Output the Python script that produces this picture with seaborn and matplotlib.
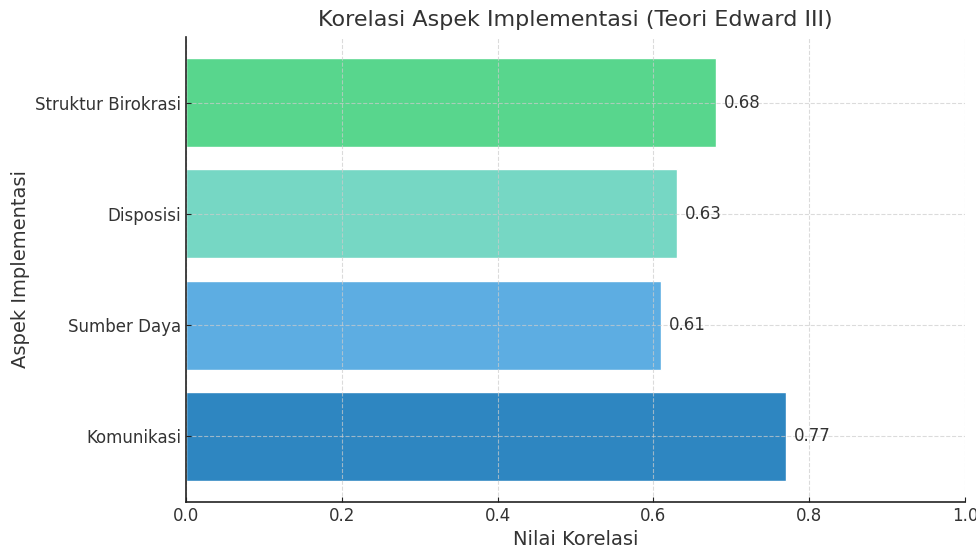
import matplotlib
matplotlib.use("Agg")
import matplotlib.pyplot as plt
import seaborn as sns
import pandas as pd

# data
aspek = ["Struktur Birokrasi", "Disposisi", "Sumber Daya", "Komunikasi"]
korelasi = [0.68, 0.63, 0.61, 0.77]
warna = ["#58D68D", "#76D7C4", "#5DADE2", "#2E86C1"]

df = pd.DataFrame({"Aspek": aspek, "Korelasi": korelasi})

sns.set_style("ticks")
plt.rcParams["font.family"] = ["DejaVu Sans"]
text_col = "#333333"

fig = plt.figure(figsize=(9.76, 5.5), dpi=100)
ax = fig.add_axes([0.1906, 0.0873, 0.7982, 0.8454])

sns.barplot(data=df, x="Korelasi", y="Aspek", hue="Aspek", palette=warna,
            order=aspek, hue_order=aspek, orient="h", width=0.8,
            saturation=1, legend=False, ax=ax)

for i, v in enumerate(korelasi):
    ax.text(v + 0.01, i, f"{v:.2f}", va="center", ha="left", fontsize=12, color=text_col)

ax.set_xlim(0, 1.0)
ax.set_ylim(3.59, -0.59)
ax.set_axisbelow(False)
ax.grid(True, linestyle="--", color="#cccccc", alpha=0.7, linewidth=0.8)
sns.despine(ax=ax)
for s in ["left", "bottom"]:
    ax.spines[s].set_color("#222222")
    ax.spines[s].set_linewidth(1.2)
    ax.spines[s].set_zorder(5)

ax.set_title("Korelasi Aspek Implementasi (Teori Edward III)", fontsize=16, color=text_col, pad=8)
ax.set_xlabel("Nilai Korelasi", fontsize=14, color=text_col, labelpad=4)
ax.set_ylabel("Aspek Implementasi", fontsize=14, color=text_col, labelpad=4)
ax.tick_params(axis="both", labelsize=12, colors="#222222", labelcolor=text_col,
               length=3.5, direction="in")

fig.savefig("out.png", dpi=100)
